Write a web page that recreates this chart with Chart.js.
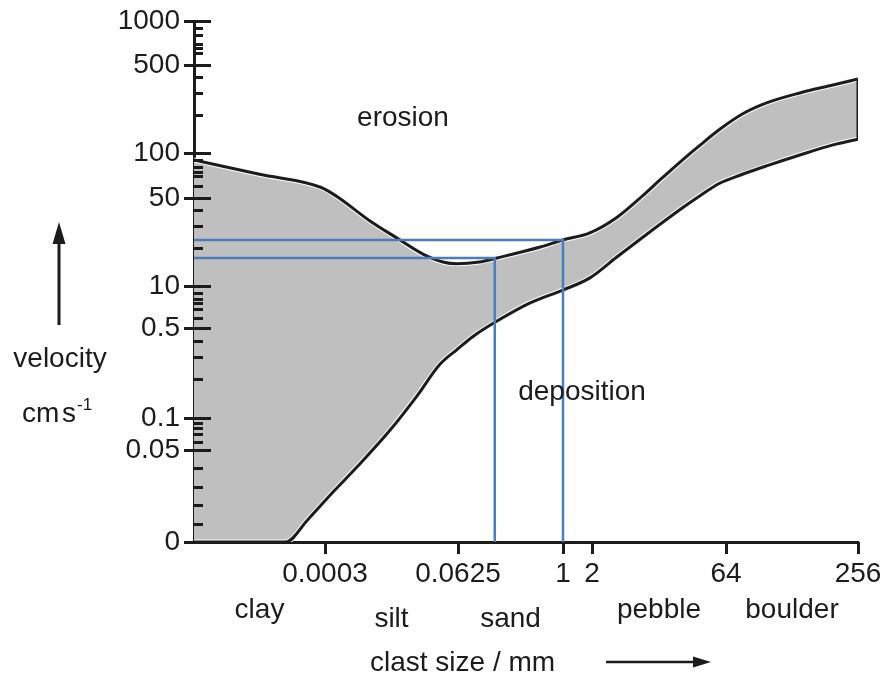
<!DOCTYPE html>
<html>
<head>
<meta charset="utf-8">
<script src="https://cdn.jsdelivr.net/npm/chart.js@4.4.1/dist/chart.umd.min.js"></script>
<style>
  html, body { margin: 0; padding: 0; background: #fff; }
</style>
</head>
<body>
<canvas id="chart" width="885" height="675"></canvas>
<script>
  // Hjulstrom-style curve: clast size (mm) against flow velocity (cm/s)

  // erosion threshold (upper curve)
  const erosionSize = [0, 0.00015, 0.00029, 0.00049, 0.0018, 0.0054, 0.015, 0.034, 0.06, 0.11, 0.175, 0.55, 1, 1.9, 3.8, 7.5, 11.6, 19.5, 33, 55, 76, 98, 139, 197, 256];
  const erosionVel  = [90, 72, 59, 51, 33, 24, 18, 15.5, 15, 15.5, 16.7, 20.4, 23.2, 26.4, 35, 52, 66, 87, 116, 155, 204, 250, 300, 347, 387];

  // deposition threshold (lower curve)
  const depositSize = [0, 0.00021, 0.00026, 0.00041, 0.0011, 0.0041, 0.012, 0.03, 0.06, 0.093, 0.175, 0.42, 1, 1.9, 3.8, 7.5, 21, 33, 55, 74, 98, 139, 197, 256];
  const depositVel  = [0, 0, 0.012, 0.027, 0.041, 0.077, 0.148, 0.26, 0.34, 0.43, 0.82, 3.0, 7.5, 11.6, 17, 24.5, 42, 52, 63, 71, 82, 97, 116, 129];

  // blue read-off lines
  const guideSize = [0.165, 1];
  const guideVel  = [16.7, 23.2];

  // axes
  const xTickValues = [0.0003, 0.0625, 1, 2, 64, 256];
  const yTickValues = [0, 0.05, 0.1, 0.5, 10, 50, 100, 500, 1000];
  const yMinorValues = [900, 800, 700, 650, 600, 400, 300, 200, 90, 80, 75, 70, 60, 40, 30, 20,
                        6, 4, 3, 2, 1, 0.4, 0.3, 0.2, 0.09, 0.08, 0.07, 0.06, 0.04, 0.03, 0.02, 0.01];

  // size classes, each shown between two sizes
  const classNames = ['clay', 'silt', 'sand', 'pebble', 'boulder'];
  const classFrom  = [0, 0.0003, 0.0625, 2, 64];
  const classTo    = [0.0003, 0.0625, 1, 64, 256];

  const INK = '#1c1c1c';
  const BLUE = '#4a7dbb';
  const GREY = '#bfbfbf';
  const FONT = "'Liberation Sans', Arial, sans-serif";

  // the printed axes are not uniform: each labelled value sits at its own
  // place along the axis, log-spaced in between (linear next to zero)
  const axisStops = {
    x: [[0, 0], [0.0003, 0.1973], [0.0625, 0.3976], [1, 0.5557], [2, 0.5994], [64, 0.8012], [256, 1]],
    y: [[0, 0], [0.05, 0.1766], [0.1, 0.238], [0.5, 0.4107], [10, 0.4914], [50, 0.6603], [100, 0.7466], [500, 0.9155], [1000, 1]]
  };

  function toDecimal(stops, v) {
    if (v <= stops[0][0]) return stops[0][1];
    for (let i = 1; i < stops.length; i++) {
      const [v0, d0] = stops[i - 1];
      const [v1, d1] = stops[i];
      if (v <= v1) {
        const t = v0 > 0 ? Math.log(v / v0) / Math.log(v1 / v0) : (v - v0) / (v1 - v0);
        return d0 + t * (d1 - d0);
      }
    }
    return 1;
  }

  function fromDecimal(stops, d) {
    for (let i = 1; i < stops.length; i++) {
      const [v0, d0] = stops[i - 1];
      const [v1, d1] = stops[i];
      if (d <= d1) {
        const t = (d - d0) / (d1 - d0);
        return v0 > 0 ? v0 * Math.pow(v1 / v0, t) : v0 + t * (v1 - v0);
      }
    }
    return stops[stops.length - 1][0];
  }

  class StopScale extends Chart.LinearScale {
    getPixelForValue(value) {
      if (value === null || value === undefined || isNaN(value)) return NaN;
      return this.getPixelForDecimal(toDecimal(axisStops[this.axis], value));
    }
    getValueForPixel(pixel) {
      return fromDecimal(axisStops[this.axis], this.getDecimalForPixel(pixel));
    }
  }
  StopScale.id = 'stops';
  StopScale.defaults = {};
  Chart.register(StopScale);

  function points(xs, ys) {
    return xs.map((x, i) => ({ x: x, y: ys[i] }));
  }

  function guide(i) {
    return [{ x: 0, y: guideVel[i] }, { x: guideSize[i], y: guideVel[i] }, { x: guideSize[i], y: 0 }];
  }

  const maxSize = erosionSize[erosionSize.length - 1];
  const edge = [
    { x: maxSize, y: depositVel[depositVel.length - 1] },
    { x: maxSize, y: erosionVel[erosionVel.length - 1] }
  ];

  function arrow(ctx, x1, y1, x2, y2, len, half) {
    const a = Math.atan2(y2 - y1, x2 - x1);
    const bx = x2 - len * Math.cos(a), by = y2 - len * Math.sin(a);
    ctx.beginPath();
    ctx.moveTo(x1, y1);
    ctx.lineTo(bx, by);
    ctx.stroke();
    ctx.beginPath();
    ctx.moveTo(x2, y2);
    ctx.lineTo(bx - half * Math.sin(a), by + half * Math.cos(a));
    ctx.lineTo(bx + half * Math.sin(a), by - half * Math.cos(a));
    ctx.closePath();
    ctx.fill();
  }

  const decor = {
    id: 'decor',
    afterDraw(chart) {
      const ctx = chart.ctx;
      const area = chart.chartArea;
      const xs = chart.scales.x, ys = chart.scales.y;
      ctx.save();
      ctx.strokeStyle = INK;
      ctx.fillStyle = INK;
      ctx.lineWidth = 3;

      // tick marks
      ctx.beginPath();
      yTickValues.forEach(v => {
        const py = Math.round(ys.getPixelForValue(v)) + 0.5;
        ctx.moveTo(area.left - 10, py);
        ctx.lineTo(area.left + 17, py);
      });
      yMinorValues.forEach(v => {
        const py = Math.round(ys.getPixelForValue(v)) + 0.5;
        ctx.moveTo(area.left, py);
        ctx.lineTo(area.left + 9, py);
      });
      xTickValues.forEach(v => {
        const px = Math.round(xs.getPixelForValue(v)) + 0.5;
        ctx.moveTo(px, area.bottom);
        ctx.lineTo(px, area.bottom + 12);
      });
      ctx.stroke();

      ctx.font = '28px ' + FONT;
      ctx.textBaseline = 'alphabetic';
      ctx.textAlign = 'center';

      // size class names
      const rowBase = [618, 627, 627, 618, 618];
      classNames.forEach((name, i) => {
        const cx = (xs.getPixelForValue(classFrom[i]) + xs.getPixelForValue(classTo[i])) / 2;
        ctx.fillText(name, cx, rowBase[i]);
      });

      ctx.fillText('erosion', 403, 126);
      ctx.fillText('deposition', 582, 400);

      // x axis title and arrow
      ctx.textAlign = 'left';
      ctx.fillText('clast size / mm', 370, 671);
      ctx.lineWidth = 2.5;
      arrow(ctx, 606, 662, 711, 662, 18, 5.5);

      // y axis title and arrow
      ctx.textAlign = 'center';
      ctx.fillText('velocity', 60, 367);
      ctx.textAlign = 'left';
      ctx.fillText('cm', 22, 422);
      ctx.fillText('s', 62, 422);
      ctx.font = '17px ' + FONT;
      ctx.fillText('-1', 77, 410);
      ctx.lineWidth = 3;
      arrow(ctx, 59, 325, 59, 222, 22, 6.5);

      ctx.restore();
    }
  };

  const tickFont = { family: FONT, size: 28 };

  new Chart(document.getElementById('chart'), {
    type: 'line',
    data: {
      datasets: [
        { data: guide(1), borderColor: BLUE, borderWidth: 2.5, tension: 0, fill: false },
        { data: guide(0), borderColor: BLUE, borderWidth: 2.5, tension: 0, fill: false },
        { data: points(erosionSize, erosionVel), borderColor: INK, borderWidth: 3, cubicInterpolationMode: 'monotone', fill: false },
        { data: points(depositSize, depositVel), borderColor: INK, borderWidth: 3, cubicInterpolationMode: 'monotone', fill: false },
        { data: edge, borderColor: INK, borderWidth: 3, tension: 0, fill: false },
        // thin white rim inside the band, and the grey band itself
        { data: points(erosionSize, erosionVel), borderColor: '#ffffff', borderWidth: 5, cubicInterpolationMode: 'monotone',
          fill: '+1', backgroundColor: GREY },
        { data: points(depositSize, depositVel), borderColor: '#ffffff', borderWidth: 5, cubicInterpolationMode: 'monotone', fill: false }
      ]
    },
    options: {
      responsive: false,
      animation: false,
      events: [],
      layout: { padding: { top: 21, right: 27, bottom: 0, left: 0 } },
      elements: { point: { radius: 0 }, line: { borderCapStyle: 'butt', borderJoinStyle: 'round' } },
      plugins: {
        legend: { display: false },
        tooltip: { enabled: false },
        filler: { drawTime: 'beforeDatasetsDraw' }
      },
      scales: {
        x: {
          type: 'stops',
          min: 0,
          max: 256,
          z: 1,
          grid: { display: false, drawTicks: false },
          border: { display: true, color: INK, width: 3 },
          ticks: {
            autoSkip: false, maxRotation: 0, minRotation: 0, padding: 15,
            color: INK, font: tickFont,
            callback: v => String(v)
          },
          afterBuildTicks: s => { s.ticks = xTickValues.map(v => ({ value: v })); },
          afterFit: s => { s.height = 133; s.paddingLeft = 0; s.paddingRight = 0; }
        },
        y: {
          type: 'stops',
          min: 0,
          max: 1000,
          z: 1,
          grid: { display: false, drawTicks: false },
          border: { display: true, color: INK, width: 3 },
          ticks: {
            autoSkip: false, padding: 14,
            color: INK, font: tickFont,
            callback: v => String(v)
          },
          afterBuildTicks: s => { s.ticks = yTickValues.map(v => ({ value: v })); },
          afterFit: s => { s.width = 194; s.paddingTop = 0; s.paddingBottom = 0; }
        }
      }
    },
    plugins: [decor]
  });
</script>
</body>
</html>
